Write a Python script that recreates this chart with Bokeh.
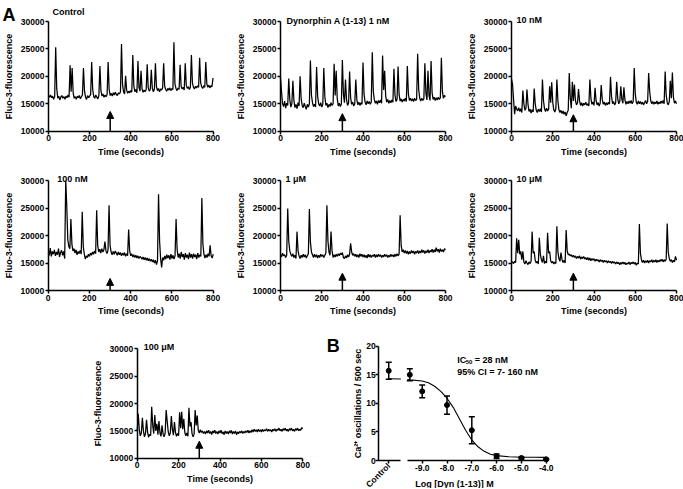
import math
from bokeh.plotting import figure
from bokeh.models import (ColumnDataSource, Arrow, NormalHead, Label, FixedTicker, LinearAxis,
                          Whisker, TeeHead, PrintfTickFormatter)
from bokeh.layouts import row, column
from bokeh.embed import file_html
from bokeh.resources import INLINE

FONT = "Liberation Sans"

# ---------------- data: panel A traces (Fluo-3 fluorescence / 100), sampled every 5 s ----------
TIME = list(range(0, 805, 5))

CONTROL = [165,162,166,161,164,158,163,253,178,160,164,157,162,165,160,163,158,164,161,166,
           162,220,172,215,170,160,163,158,164,161,165,159,163,166,215,174,162,158,165,161,
           164,167,226,176,163,160,166,162,159,165,219,174,164,168,162,166,163,167,226,176,
           165,169,164,170,166,171,167,165,170,168,172,259,185,172,168,201,175,169,173,170,
           174,171,239,182,172,176,170,228,180,173,210,177,171,175,172,176,222,179,173,176,
           212,178,172,177,224,181,174,178,172,177,175,179,224,182,176,173,178,175,179,174,
           178,176,262,186,178,174,179,176,221,182,177,180,175,224,184,178,181,176,180,239,
           188,180,177,182,179,183,180,234,188,181,178,183,180,226,186,180,184,179,183,181,197]

DYN_1NM = [198,172,150,145,155,142,151,147,196,158,144,150,192,156,143,149,141,152,146,200,
           160,147,143,151,145,140,149,144,150,229,166,152,145,149,144,217,164,150,146,152,
           144,149,215,163,147,151,143,149,145,152,147,150,223,165,210,160,146,151,145,149,
           230,168,152,194,158,147,151,209,161,149,153,146,150,194,158,148,153,147,152,149,
           225,168,153,148,155,150,154,149,153,244,172,157,151,155,149,156,152,157,151,238,
           175,210,164,153,158,151,156,152,157,153,214,166,154,158,218,167,155,159,153,158,
           155,160,154,219,168,156,160,155,159,154,160,156,158,241,176,160,155,160,156,159,
           224,169,157,210,165,156,228,170,158,162,156,161,157,162,158,161,234,172,160,165,163]

DYN_10NM = [195,186,158,131,146,140,137,143,136,141,134,174,150,138,142,176,149,136,140,133,
            139,135,178,150,138,134,140,136,141,135,194,156,141,136,142,137,140,182,152,189,
            153,139,135,141,194,155,139,134,138,132,137,131,135,128,134,138,206,160,142,190,
            155,185,156,148,152,177,155,147,152,146,151,148,153,147,150,146,194,160,149,153,
            147,179,156,148,152,146,151,184,158,149,153,147,152,148,153,149,199,163,150,154,
            148,152,190,160,150,154,182,158,151,180,157,149,154,150,155,151,156,150,154,215,
            168,153,149,155,150,154,149,153,148,152,156,150,154,206,172,156,150,154,149,153,
            150,155,149,153,150,155,151,156,150,209,166,152,148,154,192,160,207,162,151,155,150]

DYN_100NM = [168,164,177,162,171,166,174,163,170,165,176,161,169,173,164,171,158,300,254,192,
             180,176,230,184,172,176,168,174,165,171,167,173,166,243,180,166,157,163,160,166,
             162,168,164,170,166,172,167,246,182,170,175,168,176,170,174,189,172,167,173,255,
             182,170,165,171,166,172,168,164,170,165,169,163,168,164,169,162,167,163,211,172,
             163,167,161,165,160,164,159,163,158,162,160,157,161,156,160,155,159,154,158,153,
             157,152,156,150,155,147,154,275,190,158,142,160,155,163,157,165,159,164,156,166,
             158,164,157,163,230,175,160,167,158,170,161,166,156,168,160,165,157,169,160,166,
             158,167,161,165,157,168,160,165,162,268,185,166,159,165,160,167,162,182,163,159,166]

DYN_1UM = [166,161,168,163,165,160,164,249,190,172,166,162,167,160,164,158,207,172,163,158,
           164,160,166,161,165,159,163,167,248,188,170,165,160,166,161,165,159,164,160,166,
           162,165,160,164,168,255,190,170,164,207,172,160,165,161,166,162,167,163,168,165,
           169,160,158,163,159,165,161,166,186,170,164,167,162,166,161,165,160,167,162,166,
           161,165,160,164,159,166,161,165,160,164,162,166,160,165,161,166,162,165,160,164,
           161,166,162,165,160,164,161,166,162,165,161,166,162,167,163,166,237,182,170,174,
           168,173,167,172,166,171,167,173,168,172,166,171,168,173,167,172,168,174,169,173,
           167,172,169,174,168,173,170,175,169,174,170,178,171,175,169,176,171,174,170,176,174]

DYN_10UM = [150,152,149,153,151,195,168,192,166,171,156,171,152,148,154,150,147,152,149,153,
            207,168,171,155,150,153,148,196,165,156,151,163,149,153,150,205,168,171,154,150,
            153,148,152,149,217,170,158,153,169,156,151,155,150,210,172,165,166,163,165,161,
            164,160,163,158,162,159,163,157,161,158,162,157,160,156,160,155,159,154,158,155,
            158,153,157,154,156,152,156,153,155,151,155,152,154,150,154,151,153,149,153,150,
            152,148,152,149,151,147,151,148,152,148,151,147,150,148,152,147,151,149,152,148,
            151,146,150,148,221,168,156,151,155,150,154,151,155,150,154,152,156,151,155,152,
            156,151,155,152,156,153,157,152,156,153,157,222,170,158,153,156,151,155,152,162,155]

DYN_100UM = [150,181,152,141,146,174,150,139,145,170,148,138,144,141,194,160,145,179,150,163,
             143,168,146,140,160,144,139,146,188,167,148,141,146,177,152,142,166,147,140,145,
             141,184,155,185,153,172,147,141,146,140,192,158,166,145,139,144,188,160,178,151,
             146,152,147,150,145,149,144,150,146,151,145,149,143,150,146,151,145,149,144,150,
             146,151,145,148,143,150,145,149,144,150,146,151,144,149,145,150,143,148,145,149,
             146,150,145,149,146,150,147,151,146,150,147,152,148,153,149,152,148,153,149,152,
             148,153,149,152,150,154,149,153,150,152,148,153,150,154,149,153,151,155,150,153,
             149,154,151,155,150,153,149,154,151,155,150,153,149,154,151,155,150,153,151,156,154]

TITLES = ["Control", "Dynorphin A (1-13) 1 nM", "10 nM", "100 nM", "1 \u03bcM", "10 \u03bcM", "100 \u03bcM"]
ARROW_TIME = 300
ARROW_TOPS = [13600, 13200, 13000, 12200, 13150, 13150, 13100]
X_RANGE = (0, 800)
Y_RANGE = (10000, 30000)
X_TICKS = [0, 200, 400, 600, 800]
Y_TICKS = [10000, 15000, 20000, 25000, 30000]

# ---------------- data: panel B dose response ----------------
CONTROL_POS = -10.35            # position of the "Control" category on the axis
CONTROL_MEAN = 15.7
CONTROL_SEM = 1.5
DOSE_LOG = [-9.5, -9.0, -8.0, -7.0, -6.0, -5.0, -4.0]
OSC_MEAN = [15.0, 12.1, 9.7, 5.3, 0.75, 0.45, 0.2]
OSC_SEM = [1.05, 1.1, 1.6, 2.35, 0.4, 0.15, 0.1]
FIT_X = [-10.35, -9.86, -9.6, -9.5, -9.0, -8.75, -8.5, -8.25, -8.0, -7.75, -7.5, -7.25,
         -7.0, -6.75, -6.5, -6.25, -6.0, -5.5, -5.0, -4.5, -4.0]
FIT_Y = [14.3, 14.25, 14.15, 14.1, 13.9, 13.6, 13.0, 12.1, 10.9, 9.3, 7.3, 5.3,
         3.6, 2.4, 1.6, 1.1, 0.85, 0.65, 0.58, 0.56, 0.55]
B_X_RANGE = (-10.75, -3.88)
B_Y_RANGE = (0, 20)
B_TICKS_X = [-9.0, -8.0, -7.0, -6.0, -5.0, -4.0]
B_TICKS_Y = [0, 5, 10, 15, 20]
BREAK = (-9.86, -9.6)


def make_fig(box, frame, xr, yr):
    """box / frame: (left, top, width, height) in page pixels; frame is where xr x yr maps."""
    bl, bt, bw, bh = box
    fl, ft, fw, fh = frame
    sx = (xr[1] - xr[0]) / fw
    sy = (yr[1] - yr[0]) / fh
    xs = xr[0] - (fl - bl) * sx
    xe = xr[1] + ((bl + bw) - (fl + fw)) * sx
    ys = yr[0] - ((bt + bh) - (ft + fh)) * sy
    ye = yr[1] + (ft - bt) * sy
    p = figure(width=bw, height=bh, x_range=(xs, xe), y_range=(ys, ye),
               x_axis_location=None, y_axis_location=None, min_border=0,
               output_backend="svg", toolbar_location=None)
    p.outline_line_color = None
    p.background_fill_color = "white"
    p.border_fill_color = "white"
    p.grid.visible = False
    return p


def style_axis(ax):
    ax.axis_line_width = 1.5
    ax.axis_line_color = "black"
    ax.major_tick_line_width = 1.5
    ax.major_tick_line_color = "black"
    ax.major_tick_out = 3
    ax.major_tick_in = 0
    ax.minor_tick_line_color = None
    ax.major_label_standoff = 1
    ax.major_label_text_font = FONT
    ax.major_label_text_font_style = "bold"
    ax.major_label_text_font_size = "8.5px"
    ax.major_label_text_color = "black"
    ax.axis_label_text_font = FONT
    ax.axis_label_text_font_style = "bold"
    ax.axis_label_text_font_size = "9px"
    ax.axis_label_text_color = "black"
    return ax


def trace_fig(i, values, box, frame, title_dx, title_dy):
    p = make_fig(box, frame, X_RANGE, Y_RANGE)
    p.line(TIME, [v * 100 for v in values], line_color="black", line_width=1.25)
    xa = style_axis(LinearAxis(fixed_location=Y_RANGE[0], bounds=X_RANGE,
                               ticker=FixedTicker(ticks=X_TICKS),
                               axis_label="Time (seconds)", axis_label_standoff=2))
    ya = style_axis(LinearAxis(fixed_location=X_RANGE[0], bounds=Y_RANGE,
                               ticker=FixedTicker(ticks=Y_TICKS),
                               axis_label="Fluo-3-fluorescence", axis_label_standoff=4))
    p.add_layout(xa, "below")
    p.add_layout(ya, "left")
    p.add_layout(Arrow(end=NormalHead(size=7, fill_color="black", line_color="black", line_width=1),
                       x_start=ARROW_TIME, y_start=Y_RANGE[0], x_end=ARROW_TIME, y_end=ARROW_TOPS[i],
                       line_color="black", line_width=1.5))
    p.add_layout(Label(x=X_RANGE[0], y=Y_RANGE[1], x_offset=title_dx, y_offset=title_dy,
                       text=TITLES[i], text_font=FONT, text_font_style="bold",
                       text_font_size="9px", text_color="black", text_baseline="alphabetic"))
    return p


f1 = trace_fig(0, CONTROL, (0, 0, 232, 158), (48, 21, 164.5, 109.7), 4, 10)
f1.add_layout(Label(x=X_RANGE[0], y=Y_RANGE[1], x_offset=-46, y_offset=7, text="A", text_font=FONT,
                    text_font_style="bold", text_font_size="18px", text_baseline="alphabetic",
                    text_color="black"))
f2 = trace_fig(1, DYN_1NM, (232, 0, 231, 158), (280, 21, 165, 109.7), 6, 1)
f3 = trace_fig(2, DYN_10NM, (463, 0, 220, 158), (511, 21, 165, 109.7), 5, 2)
f4 = trace_fig(3, DYN_100NM, (0, 158, 232, 160), (47.7, 180, 165, 110), 9, 2)
f5 = trace_fig(4, DYN_1UM, (232, 158, 231, 160), (280, 180, 165, 110), 5, 2)
f6 = trace_fig(5, DYN_10UM, (463, 158, 220, 160), (511, 180, 165, 110), 5, 2)
f7 = trace_fig(6, DYN_100UM, (0, 318, 344, 170), (136.7, 348.3, 165.6, 109.4), 6.5, 1.5)
f7.add_layout(Label(x=X_RANGE[1], y=Y_RANGE[1], x_offset=24, y_offset=3.3, text="B", text_font=FONT,
                    text_font_style="bold", text_font_size="18px", text_baseline="alphabetic",
                    text_color="black"))

# ---------------- panel B ----------------
pB = make_fig((344, 318, 339, 170), (378.3, 345.7, 170.4, 114.3), B_X_RANGE, B_Y_RANGE)

xa_main = style_axis(LinearAxis(fixed_location=0, bounds=(BREAK[1], -4.0),
                                ticker=FixedTicker(ticks=B_TICKS_X),
                                formatter=PrintfTickFormatter(format="%.1f")))
xa_ctrl = style_axis(LinearAxis(fixed_location=0, bounds=(B_X_RANGE[0], BREAK[0]),
                                ticker=FixedTicker(ticks=[CONTROL_POS]),
                                major_label_overrides={CONTROL_POS: "Control"},
                                major_label_orientation=math.pi / 4))
ya_b = style_axis(LinearAxis(fixed_location=B_X_RANGE[0], bounds=B_Y_RANGE,
                             ticker=FixedTicker(ticks=B_TICKS_Y),
                             axis_label="Ca\u00b2\u207a oscillations / 500 sec",
                             axis_label_standoff=0))
ya_b.major_label_standoff = 0
pB.add_layout(xa_main, "below")
pB.add_layout(xa_ctrl, "below")
pB.add_layout(ya_b, "left")

left_x = [x for x in FIT_X if x <= BREAK[0]]
left_y = [y for x, y in zip(FIT_X, FIT_Y) if x <= BREAK[0]]
right_x = [x for x in FIT_X if x >= BREAK[1]]
right_y = [y for x, y in zip(FIT_X, FIT_Y) if x >= BREAK[1]]
pB.line(left_x, left_y, line_color="black", line_width=1.1)
pB.line(right_x, right_y, line_color="black", line_width=1.1)

xs = [CONTROL_POS] + DOSE_LOG
ms = [CONTROL_MEAN] + OSC_MEAN
ss = [CONTROL_SEM] + OSC_SEM
src = ColumnDataSource(dict(x=xs, y=ms, upper=[m + s for m, s in zip(ms, ss)],
                            lower=[m - s for m, s in zip(ms, ss)]))
pB.add_layout(Whisker(base="x", upper="upper", lower="lower", source=src, dimension="height",
                      line_color="black", line_width=1.5,
                      upper_head=TeeHead(size=6, line_color="black", line_width=1.5),
                      lower_head=TeeHead(size=6, line_color="black", line_width=1.5)))
pB.scatter("x", "y", source=src, size=5, color="black")

pB.add_layout(Label(x=-7.70, y=0, y_offset=-18, text="Log [Dyn (1-13)] M", text_font=FONT,
                    text_font_style="bold", text_font_size="9px", text_align="center",
                    text_baseline="top", text_color="black"))
ann = dict(text_font=FONT, text_font_style="bold", text_color="black", text_baseline="alphabetic")
pB.add_layout(Label(x=-7.59, y=17.67, text="IC", text_font_size="9px", **ann))
pB.add_layout(Label(x=-7.59, y=17.67, x_offset=8.5, y_offset=-2, text="50", text_font_size="6px", **ann))
pB.add_layout(Label(x=-7.59, y=17.67, x_offset=17.5, text="=  28 nM", text_font_size="9px", **ann))
pB.add_layout(Label(x=-7.59, y=15.45, text="95% CI =  7- 160 nM", text_font_size="9px", **ann))

p = column(row(f1, f2, f3), row(f4, f5, f6), row(f7, pB))

open("out.html", "w").write(file_html(p, INLINE))
